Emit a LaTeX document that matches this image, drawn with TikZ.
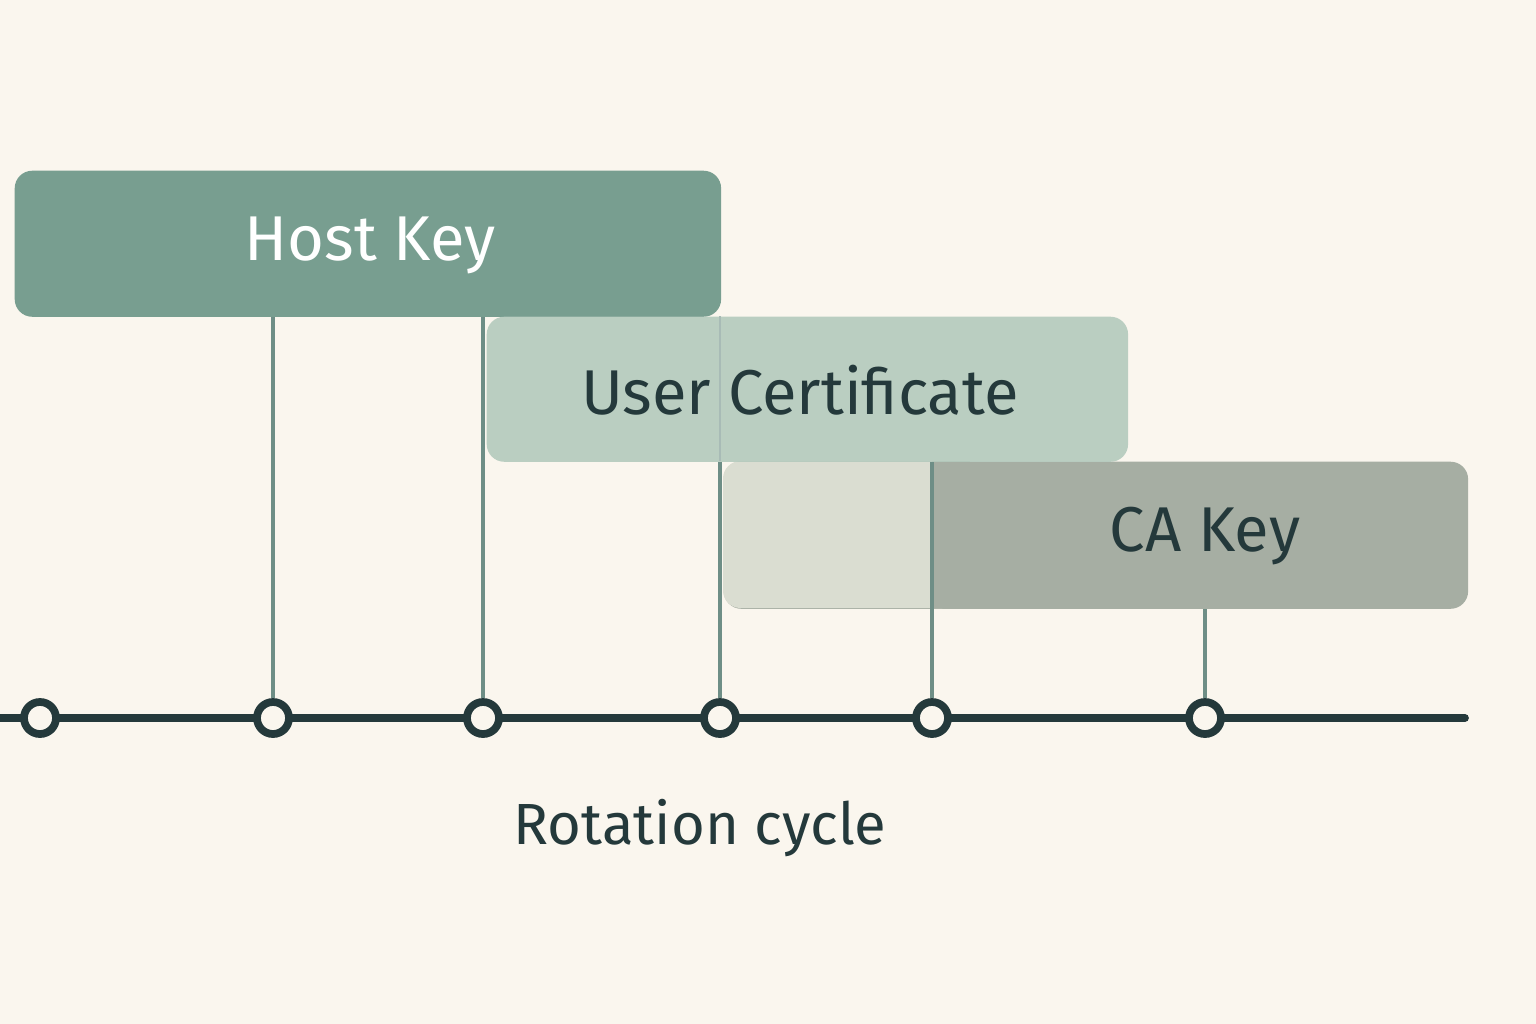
\documentclass[tikz,border=0pt]{standalone}
\usepackage{fontspec}
\setmainfont{Fira Sans}
\usetikzlibrary{positioning}
\definecolor{bgcolor}{HTML}{FAF6EE}
\definecolor{hostcolor}{HTML}{789E90}
\definecolor{usercolor}{HTML}{B4CABD}
\definecolor{cacolor}{HTML}{A6AEA3}
\definecolor{calight}{HTML}{DADDD1}
\definecolor{inkcolor}{HTML}{24393B}
\definecolor{stemcolor}{HTML}{6E8E86}

\tikzset{
    keybox/.style={rounded corners=5pt, inner sep=0pt, anchor=north west},
    tick/.style={circle, draw=inkcolor, fill=bgcolor, line width=2.2pt, minimum size=0.32cm, inner sep=0pt},
    stem/.style={stemcolor, line width=1.4pt}
}

\begin{document}
\begin{tikzpicture}[x=0.01cm, y=-0.01cm]
    \fill[bgcolor] (0,0) rectangle (1536,1024);
    \useasboundingbox (0,0) rectangle (1536,1024);

    % key boxes
    \node[keybox, fill=hostcolor, minimum width=7.06cm, minimum height=1.46cm] (host) at (14,170) {};
    \node[keybox, fill=cacolor, minimum width=7.44cm, minimum height=1.47cm] (ca) at (723,461) {};
    \fill[calight, rounded corners=5pt] (723,461) rectangle (960,608);
    \fill[cacolor] (932,461) rectangle (970,608);
    \node[keybox, fill=usercolor, fill opacity=0.9, minimum width=6.41cm, minimum height=1.45cm] (user) at (486,316) {};
    \draw[stemcolor!60, line width=0.8pt] (720,316) -- (720,461);

    \node[font=\fontsize{18}{22}\selectfont, text=white] at (370,245) {Host Key};
    \node[font=\fontsize{18}{22}\selectfont, text=inkcolor] at (800,390) {User Certificate};
    \node[font=\fontsize{18}{22}\selectfont, text=inkcolor] at (1205,536) {CA Key};

    % timeline
    \draw[inkcolor, line width=2.2pt, line cap=round] (0,718) -- (1465,718);
    \foreach \name/\x in {t1/40, t2/273, t3/483, t4/720, t5/932, t6/1205}
        \node[tick] (\name) at (\x,718) {};

    % stems
    \draw[stem] (host.south -| t2) -- (t2);
    \draw[stem] (host.south -| t3) -- (t3);
    \draw[stem] (user.south -| t4) -- (t4);
    \draw[stem] (user.south -| t5) -- (t5);
    \draw[stem] (ca.south -| t6) -- (t6);

    \node[font=\fontsize{16.5}{20}\selectfont, text=inkcolor] (label) at (700,828) {Rotation cycle};
\end{tikzpicture}
\end{document}
